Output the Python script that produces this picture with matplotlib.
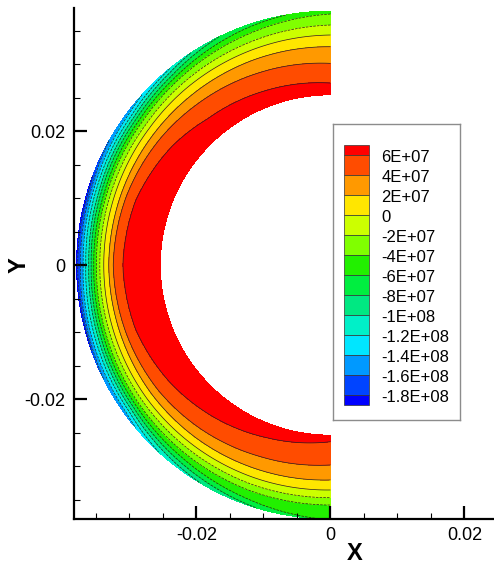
import numpy as np
import matplotlib.pyplot as plt
from matplotlib.patches import Rectangle
from matplotlib.ticker import MultipleLocator, FuncFormatter

plt.rcParams['font.family'] = ['Liberation Sans', 'DejaVu Sans']

# contour levels (low -> high) and legend text
levels = [-1.8e8, -1.6e8, -1.4e8, -1.2e8, -1e8, -8e7, -6e7, -4e7, -2e7, 0, 2e7, 4e7, 6e7]
level_labels = ['-1.8E+08', '-1.6E+08', '-1.4E+08', '-1.2E+08', '-1E+08', '-8E+07',
                '-6E+07', '-4E+07', '-2E+07', '0', '2E+07', '4E+07', '6E+07']
band_colors = ['#0000ff', '#0044ff', '#0099ff', '#00e6ff', '#00f0c8', '#00e882', '#00ee40',
               '#22f000', '#80ff00', '#ccff00', '#ffe600', '#ff9900', '#ff4c00', '#ff0000']

# ring geometry (mm)
r_inner = 25.4
r_outer = 37.9
v_inner = 7e7

# radii (mm) where the lines 6E+07, 4E+07, 2E+07, ... cross, read at a few angles (deg)
angles = [90, 110, 130, 143, 162, 180, 198, 216, 232, 250, 270]
radii_090 = [27.16, 30.10, 32.58, 34.33, 35.82, 37.46]
radii_110 = [27.76, 30.60, 32.69, 34.18, 35.37, 36.57, 37.46]
radii_130 = [28.51, 31.19, 32.76, 34.03, 34.93, 35.75, 36.34, 36.87, 37.39, 37.84]
radii_143 = [29.55, 31.64, 32.84, 33.88, 34.63, 35.30, 35.82, 36.27, 36.72, 37.16, 37.61]
radii_162 = [30.65, 32.16, 32.99, 33.85, 34.48, 35.04, 35.45, 35.90, 36.27, 36.72, 37.09, 37.46, 37.76]
radii_180 = [31.00, 32.43, 33.09, 33.84, 34.43, 34.93, 35.33, 35.72, 36.07, 36.52, 36.91, 37.31, 37.72]
radii_198 = [30.65, 32.16, 32.99, 33.85, 34.48, 35.07, 35.52, 35.94, 36.34, 36.79, 37.24, 37.61, 37.80]
radii_216 = [29.70, 31.79, 32.91, 33.88, 34.63, 35.30, 35.82, 36.27, 36.72, 37.16, 37.61]
radii_232 = [28.66, 31.19, 32.69, 33.81, 34.70, 35.52, 36.27, 36.94, 37.54]
radii_250 = [27.46, 30.45, 32.39, 33.73, 34.78, 35.75, 37.01, 37.76]
radii_270 = [26.37, 29.85, 32.09, 33.58, 34.73, 35.82]
v_outer = [-4.5e7, -6.5e7, -1.25e8, -1.5e8, -1.84e8, -1.9e8, -1.83e8, -1.5e8, -1.1e8, -8.2e7, -5.5e7]

all_radii = [radii_090, radii_110, radii_130, radii_143, radii_162, radii_180,
             radii_198, radii_216, radii_232, radii_250, radii_270]

desc_levels = levels[::-1]
v_grid = np.linspace(-3.5e8, v_inner, 800)

# radius of each value at every read angle (continued a little past the outer edge)
r_nodes = []
for rad, vo in zip(all_radii, v_outer):
    pv = [v_inner] + desc_levels[:len(rad)] + [vo, vo - 1e8]
    pr = [r_inner] + rad + [r_outer, r_outer + 3]
    r_nodes.append(np.interp(v_grid, pv[::-1], pr[::-1]))
r_nodes = np.array(r_nodes)

theta_deg = np.linspace(90, 270, 721)
r = np.linspace(r_inner, r_outer, 260)
field = np.empty((len(theta_deg), len(r)))
for i, th in enumerate(theta_deg):
    r_th = np.array([np.interp(th, angles, r_nodes[:, j]) for j in range(len(v_grid))])
    field[i] = np.interp(r, r_th[::-1], v_grid[::-1])

R, T = np.meshgrid(r / 1000, np.radians(theta_deg))
X = R * np.cos(T)
Y = R * np.sin(T)

fig = plt.figure(figsize=(4.94, 5.67), dpi=100)
W, H = 494, 567
ax = fig.add_axes([74 / W, 1 - 519 / H, 420 / W, 511 / H])

ax.contourf(X, Y, field, levels=[-1e12] + levels + [1e12], colors=band_colors)
ax.contour(X, Y, field, levels=levels, colors='#222222', linewidths=0.5)

ax.set_xlim(-0.03828, 0.02441)
ax.set_ylim(-0.03791, 0.03836)

fmt = FuncFormatter(lambda v, _: f'{round(v, 4) + 0:g}')
for axis in (ax.xaxis, ax.yaxis):
    axis.set_major_locator(MultipleLocator(0.02))
    axis.set_minor_locator(MultipleLocator(0.005))
    axis.set_major_formatter(fmt)
ax.tick_params(which='major', direction='in', length=9.5, width=1.6, labelsize=13, pad=6)
ax.tick_params(which='minor', direction='in', length=4.5, width=0.8)
ax.spines['top'].set_visible(False)
ax.spines['right'].set_visible(False)
for s in ('left', 'bottom'):
    ax.spines[s].set_linewidth(1.6)

fig.text(355 / W, 1 - 554 / H, 'X', fontsize=17, fontweight='bold', ha='center', va='center')
fig.text(19 / W, 1 - 265 / H, 'Y', fontsize=17, fontweight='bold', ha='center', va='center',
         rotation=90)

# legend box
lax = fig.add_axes([333 / W, 1 - 420 / H, 127 / W, 296 / H])
lax.set_xlim(0, 127)
lax.set_ylim(296, 0)
lax.set_xticks([])
lax.set_yticks([])
for s in lax.spines.values():
    s.set_color('#8c8c8c')
    s.set_linewidth(1)

top = 21
n = len(band_colors)
y = top
for k in range(n):
    c = band_colors[n - 1 - k]
    h = 10 if k in (0, n - 1) else 20
    lax.add_patch(Rectangle((11, y), 25, h, facecolor=c, edgecolor='#333333', linewidth=0.5))
    y += h
for i, lab in enumerate(level_labels[::-1]):
    lax.text(48.5, top + 10 + 20 * i + 2.5, lab, fontsize=12, va='center', ha='left')

fig.savefig('out.png', dpi=100)
